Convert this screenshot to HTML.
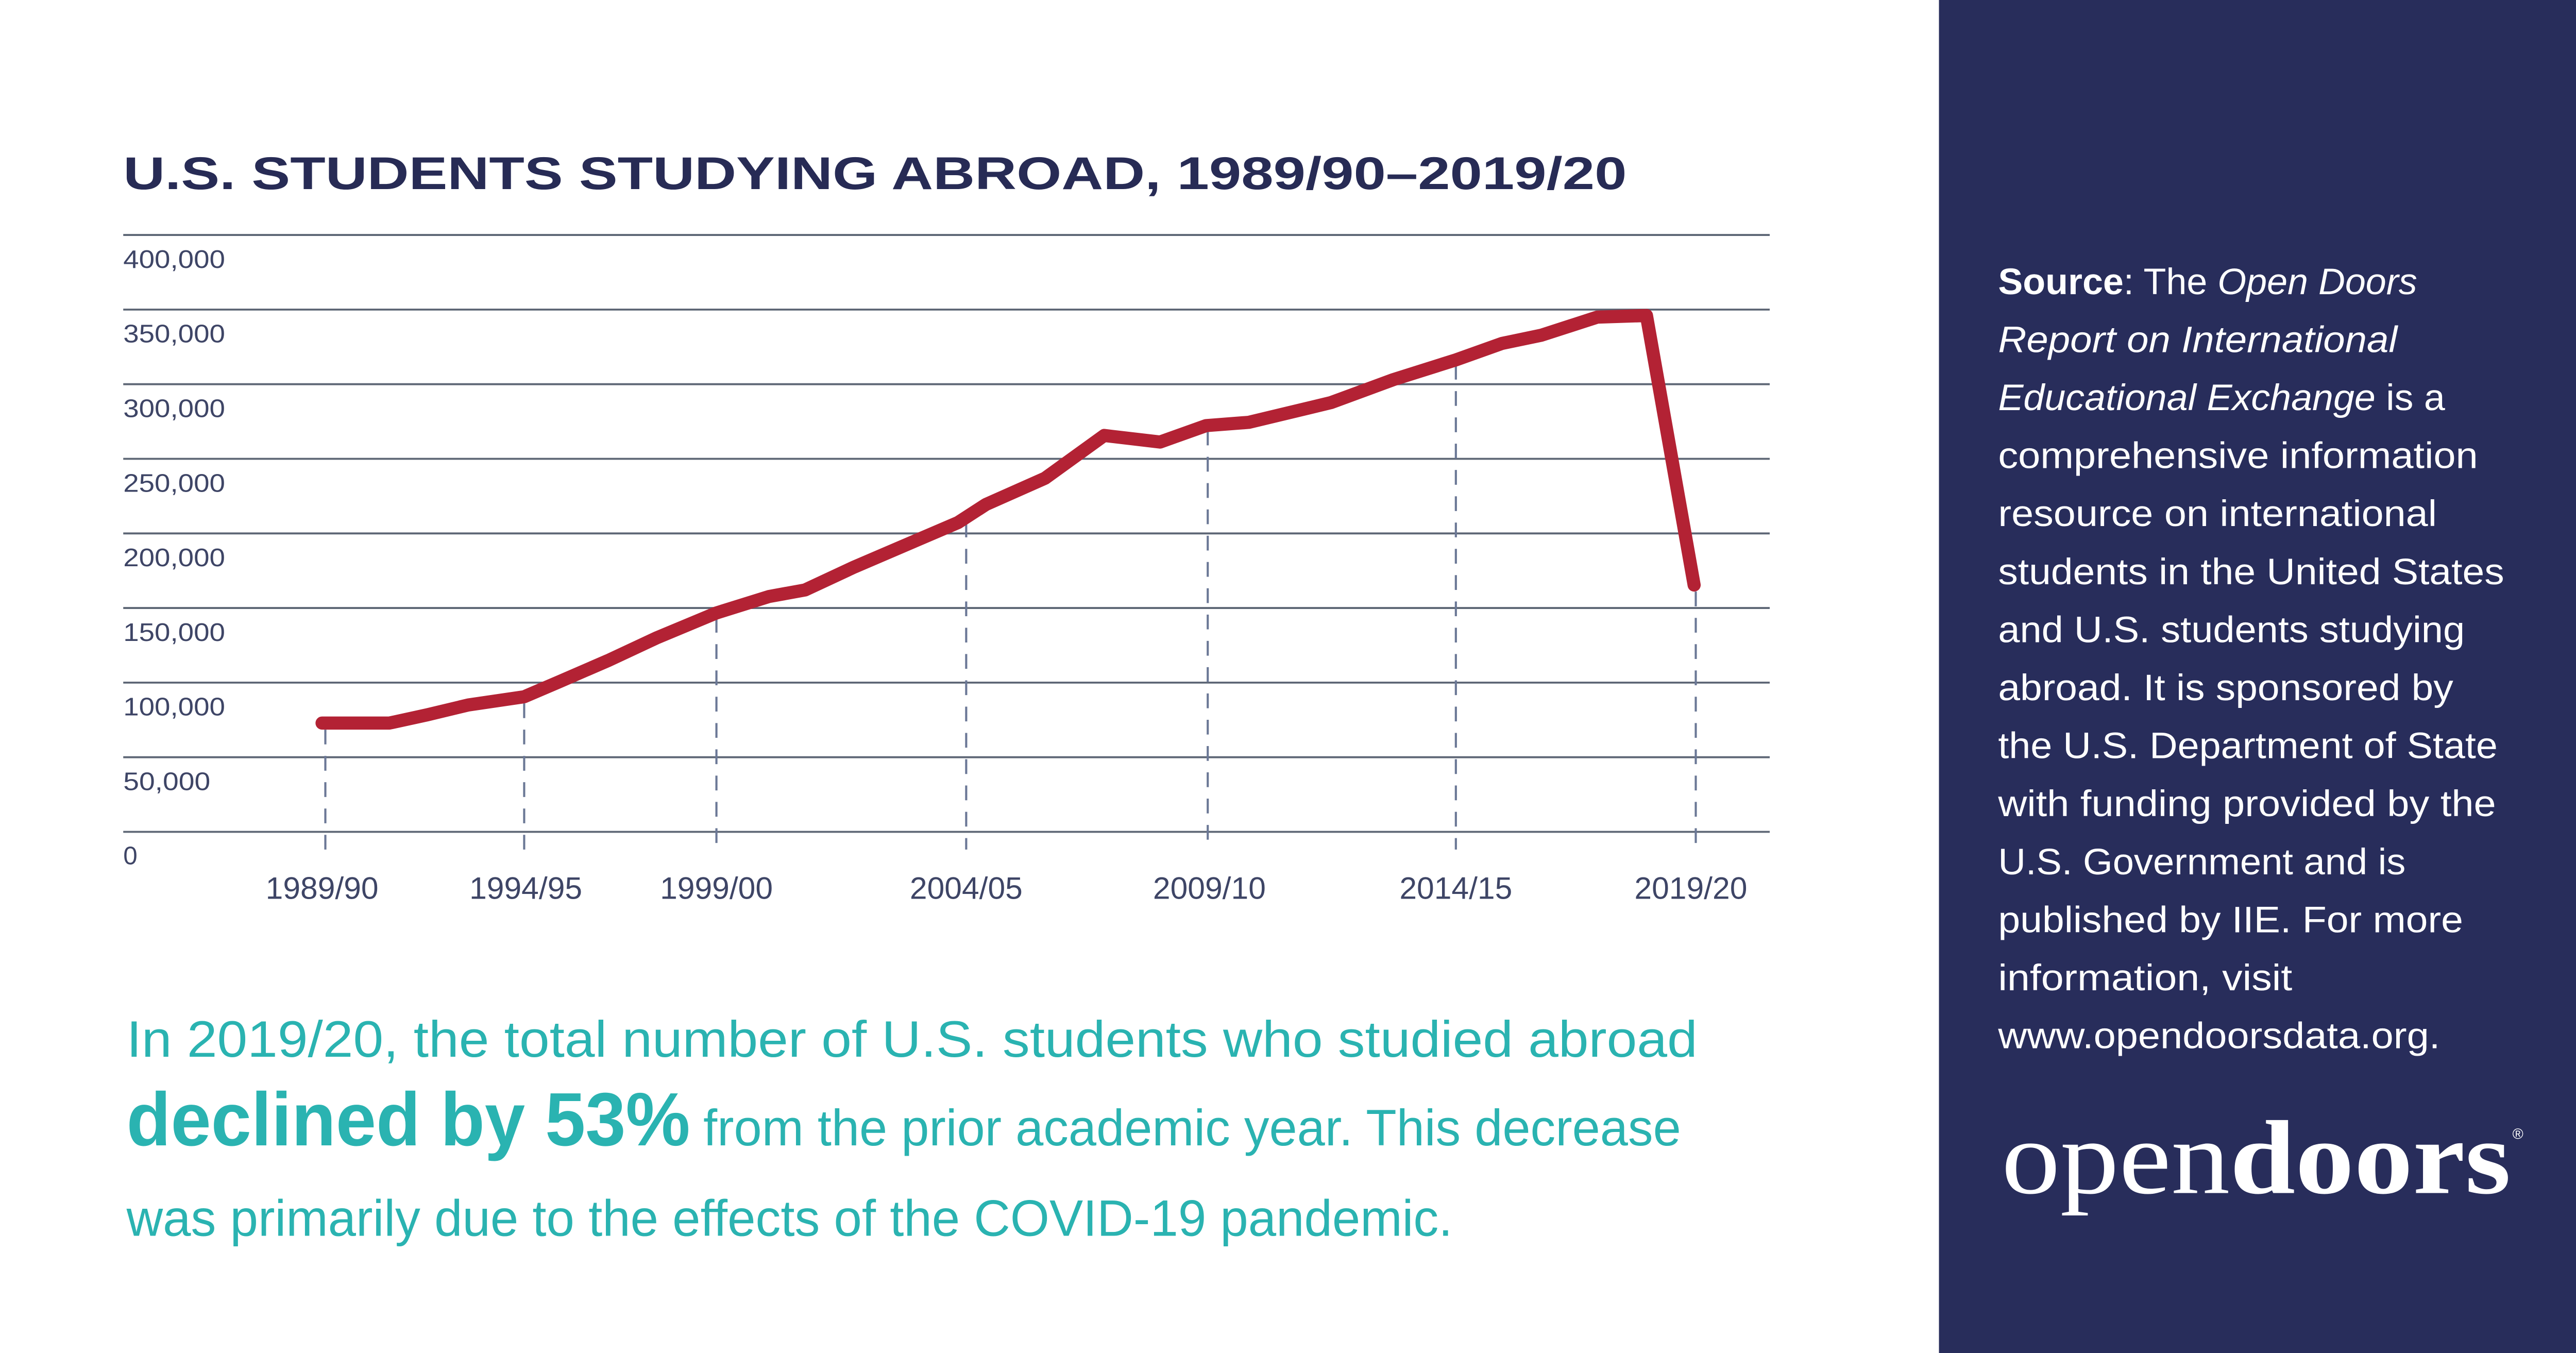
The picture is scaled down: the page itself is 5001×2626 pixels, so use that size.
<!DOCTYPE html>
<html><head><meta charset="utf-8"><style>
html,body{margin:0;padding:0;background:#fff;}
svg{display:block;}
</style></head><body>
<svg width="5001" height="2626" viewBox="0 0 1568 823.35" xmlns="http://www.w3.org/2000/svg">
<rect x="0" y="0" width="1568" height="824" fill="#fff"/>
<rect x="1180" y="0" width="388" height="824" fill="#282d5b"/>
<text x="75" y="115" font-family="Liberation Sans, sans-serif" font-weight="bold" font-size="28" fill="#272b55" textLength="915" lengthAdjust="spacingAndGlyphs">U.S. STUDENTS STUDYING ABROAD, 1989/90–2019/20</text>
<g stroke="#5d6675" stroke-width="1.2">
<line x1="75" y1="143" x2="1077" y2="143"/>
<line x1="75" y1="188.4" x2="1077" y2="188.4"/>
<line x1="75" y1="233.8" x2="1077" y2="233.8"/>
<line x1="75" y1="279.2" x2="1077" y2="279.2"/>
<line x1="75" y1="324.6" x2="1077" y2="324.6"/>
<line x1="75" y1="370" x2="1077" y2="370"/>
<line x1="75" y1="415.4" x2="1077" y2="415.4"/>
<line x1="75" y1="460.8" x2="1077" y2="460.8"/>
<line x1="75" y1="506.2" x2="1077" y2="506.2"/>
</g>
<g font-family="Liberation Sans, sans-serif" font-size="15.5" fill="#3e4566">
<text x="75" y="163" textLength="62" lengthAdjust="spacingAndGlyphs">400,000</text>
<text x="75" y="208.4" textLength="62" lengthAdjust="spacingAndGlyphs">350,000</text>
<text x="75" y="253.8" textLength="62" lengthAdjust="spacingAndGlyphs">300,000</text>
<text x="75" y="299.2" textLength="62" lengthAdjust="spacingAndGlyphs">250,000</text>
<text x="75" y="344.6" textLength="62" lengthAdjust="spacingAndGlyphs">200,000</text>
<text x="75" y="390" textLength="62" lengthAdjust="spacingAndGlyphs">150,000</text>
<text x="75" y="435.4" textLength="62" lengthAdjust="spacingAndGlyphs">100,000</text>
<text x="75" y="480.8" textLength="53" lengthAdjust="spacingAndGlyphs">50,000</text>
<text x="75" y="526">0</text>
</g>
<g stroke="#6b7896" stroke-width="1.3" stroke-dasharray="9,7">
<line x1="198" y1="444" x2="198" y2="517"/>
<line x1="319" y1="428" x2="319" y2="517"/>
<line x1="436" y1="376" x2="436" y2="517"/>
<line x1="588" y1="318" x2="588" y2="517"/>
<line x1="735" y1="262" x2="735" y2="517"/>
<line x1="886" y1="222" x2="886" y2="517"/>
<line x1="1032" y1="360" x2="1032" y2="517"/>
</g>
<g font-family="Liberation Sans, sans-serif" font-size="19" fill="#3e4566" text-anchor="middle">
<text x="196" y="547">1989/90</text>
<text x="320" y="547">1994/95</text>
<text x="436" y="547">1999/00</text>
<text x="588" y="547">2004/05</text>
<text x="736" y="547">2009/10</text>
<text x="886" y="547">2014/15</text>
<text x="1029" y="547">2019/20</text>
</g>
<polyline fill="none" stroke="#b32234" stroke-width="8" stroke-linejoin="round" stroke-linecap="round"
points="196,440 237,440 260,435 285,429 319,424 340,415 370,402 400,388 436,373 468,363 490,359 520,345 555,330 583,318 600,307 636,291 672,265 706,269 734,259 760,257 785,251 810,245 848,231 886,219 914,209 938,204 972,193 1002,192 1031,356"/>
<g font-family="Liberation Sans, sans-serif" fill="#2ab3b1">
<text x="77" y="643" font-size="31" textLength="956" lengthAdjust="spacingAndGlyphs">In 2019/20, the total number of U.S. students who studied abroad</text>
<text x="77" y="697" font-size="46" font-weight="bold" textLength="343" lengthAdjust="spacingAndGlyphs">declined by 53%</text>
<text x="428" y="697" font-size="31" textLength="595" lengthAdjust="spacingAndGlyphs">from the prior academic year. This decrease</text>
<text x="77" y="752" font-size="31" textLength="807" lengthAdjust="spacingAndGlyphs">was primarily due to the effects of the COVID-19 pandemic.</text>
</g>
<g font-family="Liberation Sans, sans-serif" font-size="22.5" fill="#fff">
<text x="1216" y="179" textLength="255" lengthAdjust="spacingAndGlyphs"><tspan font-weight="bold">Source</tspan>: The <tspan font-style="italic">Open Doors</tspan></text>
<text x="1216" y="214.3" font-style="italic" textLength="243" lengthAdjust="spacingAndGlyphs">Report on International</text>
<text x="1216" y="249.6" textLength="272" lengthAdjust="spacingAndGlyphs"><tspan font-style="italic">Educational Exchange</tspan> is a</text>
<text x="1216" y="284.9" textLength="292" lengthAdjust="spacingAndGlyphs">comprehensive information</text>
<text x="1216" y="320.2" textLength="267" lengthAdjust="spacingAndGlyphs">resource on international</text>
<text x="1216" y="355.5" textLength="308" lengthAdjust="spacingAndGlyphs">students in the United States</text>
<text x="1216" y="390.8" textLength="284" lengthAdjust="spacingAndGlyphs">and U.S. students studying</text>
<text x="1216" y="426.1" textLength="277" lengthAdjust="spacingAndGlyphs">abroad. It is sponsored by</text>
<text x="1216" y="461.4" textLength="304" lengthAdjust="spacingAndGlyphs">the U.S. Department of State</text>
<text x="1216" y="496.7" textLength="303" lengthAdjust="spacingAndGlyphs">with funding provided by the</text>
<text x="1216" y="532" textLength="248" lengthAdjust="spacingAndGlyphs">U.S. Government and is</text>
<text x="1216" y="567.3" textLength="283" lengthAdjust="spacingAndGlyphs">published by IIE. For more</text>
<text x="1216" y="602.6" textLength="179" lengthAdjust="spacingAndGlyphs">information, visit</text>
<text x="1216" y="637.9" textLength="269" lengthAdjust="spacingAndGlyphs">www.opendoorsdata.org.</text>
</g>
<text x="1218" y="726" font-family="Liberation Serif, serif" font-size="64" fill="#fff" textLength="310" lengthAdjust="spacingAndGlyphs">open<tspan font-weight="bold">doors</tspan></text>
<text x="1529" y="693" font-family="Liberation Sans, sans-serif" font-size="9" fill="#fff">®</text>
</svg>
</body></html>
